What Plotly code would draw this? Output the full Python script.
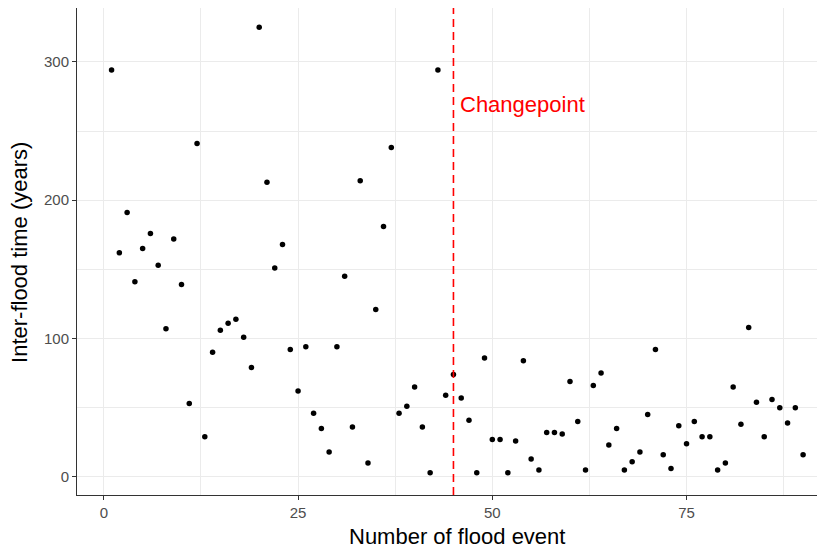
import plotly.graph_objects as go

event_number = list(range(1, 91))
inter_flood_years = [
    294, 162, 191, 141, 165, 176, 153, 107, 172, 139,
    53, 241, 29, 90, 106, 111, 114, 101, 79, 325,
    213, 151, 168, 92, 62, 94, 46, 35, 18, 94,
    145, 36, 214, 10, 121, 181, 238, 46, 51, 65,
    36, 3, 294, 59, 74, 57, 41, 3, 86, 27,
    27, 3, 26, 84, 13, 5, 32, 32, 31, 69,
    40, 5, 66, 75, 23, 35, 5, 11, 18, 45,
    92, 16, 6, 37, 24, 40, 29, 29, 5, 10,
    65, 38, 108, 54, 29, 56, 50, 39, 50, 16,
]
changepoint = 45
changepoint_label = "Changepoint"
x_ticks = [0, 25, 50, 75]
y_ticks = [0, 100, 200, 300]

font_family = "Liberation Sans, Arial, sans-serif"

fig = go.Figure()
fig.add_trace(go.Scatter(
    x=event_number, y=inter_flood_years, mode="markers",
    marker=dict(color="black", size=5.5, line=dict(width=0)),
    showlegend=False, cliponaxis=False,
))

fig.add_shape(type="line", xref="x", yref="paper",
              x0=changepoint, x1=changepoint, y0=0, y1=1,
              line=dict(color="#FF0000", width=1.6, dash="8px,5px"))

fig.add_annotation(x=changepoint + 0.55, y=269, xref="x", yref="y",
                   text=changepoint_label, showarrow=False,
                   xanchor="left", yanchor="middle",
                   font=dict(color="#FF0000", size=22, family=font_family))

fig.add_annotation(x=0.508, y=-0.0842, xref="paper", yref="paper",
                   text="Number of flood event", showarrow=False,
                   xanchor="center", yanchor="middle",
                   font=dict(color="black", size=22, family=font_family))
fig.add_annotation(x=-0.0762, y=0.497, xref="paper", yref="paper",
                   text="Inter-flood time (years)", showarrow=False,
                   textangle=-90, xanchor="center", yanchor="middle",
                   font=dict(color="black", size=22, family=font_family))

grid_col = "#EBEBEB"
fig.update_layout(
    width=817, height=544,
    margin=dict(l=69, r=0, t=0, b=57),
    paper_bgcolor="white", plot_bgcolor="white",
    font=dict(family=font_family),
    xaxis=dict(
        range=[-3.45, 92.82], tickvals=x_ticks,
        showgrid=True, gridcolor=grid_col, gridwidth=1.3,
        minor=dict(tickvals=[12.5, 37.5, 62.5, 87.5], showgrid=True,
                   gridcolor=grid_col, gridwidth=0.7, ticks=""),
        zeroline=False, showline=True, linecolor="#333333", linewidth=1,
        mirror=True, ticks="outside", ticklen=4, tickcolor="#333333", tickwidth=1,
        tickfont=dict(size=15, color="#4D4D4D"),
    ),
    yaxis=dict(
        range=[-13.1, 338.9], tickvals=y_ticks,
        showgrid=True, gridcolor=grid_col, gridwidth=1.3,
        minor=dict(tickvals=[50, 150, 250], showgrid=True,
                   gridcolor=grid_col, gridwidth=0.7, ticks=""),
        zeroline=False, showline=True, linecolor="#333333", linewidth=1,
        ticks="outside", ticklen=4, tickcolor="#333333", tickwidth=1,
        tickfont=dict(size=15, color="#4D4D4D"),
    ),
)

fig.write_html("out.html")
